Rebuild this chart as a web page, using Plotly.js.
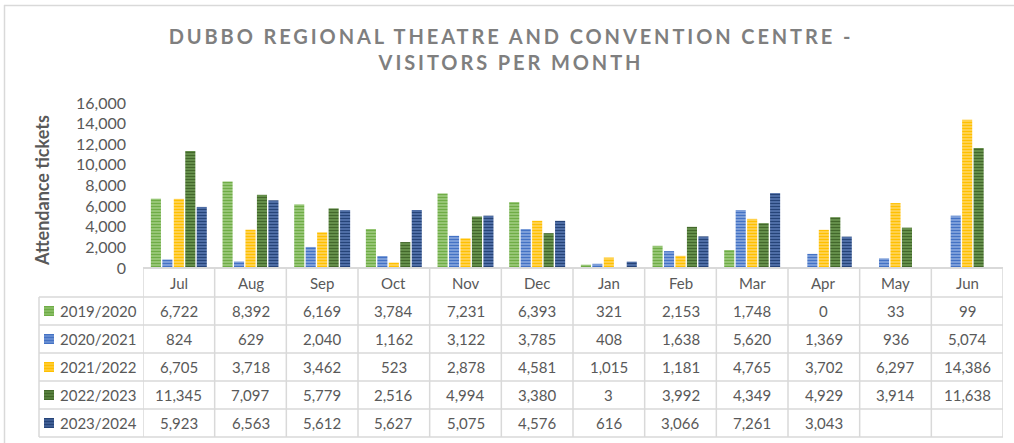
<!DOCTYPE html>
<html>
<head>
<meta charset="utf-8">
<script src="https://cdn.plot.ly/plotly-3.0.1.min.js"></script>
<style>
  html, body { margin: 0; padding: 0; background: #fff; }
  #chart { width: 1014px; height: 443px; }
  .gtitle { letter-spacing: 2.9px; }
</style>
</head>
<body>
<div id="chart"></div>
<script>
// ---- Data ----
const months = ["Jul","Aug","Sep","Oct","Nov","Dec","Jan","Feb","Mar","Apr","May","Jun"];
const seriesNames = ["2019/2020","2020/2021","2021/2022","2022/2023","2023/2024"];
const s2019_2020 = [6722, 8392, 6169, 3784, 7231, 6393, 321, 2153, 1748, 0, 33, 99];
const s2020_2021 = [824, 629, 2040, 1162, 3122, 3785, 408, 1638, 5620, 1369, 936, 5074];
const s2021_2022 = [6705, 3718, 3462, 523, 2878, 4581, 1015, 1181, 4765, 3702, 6297, 14386];
const s2022_2023 = [11345, 7097, 5779, 2516, 4994, 3380, 3, 3992, 4349, 4929, 3914, 11638];
const s2023_2024 = [5923, 6563, 5612, 5627, 5075, 4576, 616, 3066, 7261, 3043, null, null];
const seriesValues = [s2019_2020, s2020_2021, s2021_2022, s2022_2023, s2023_2024];

// ---- Styles ----
const fgColors = ["#6FAC46", "#4472C4", "#FFC000", "#43682B", "#264478"];
const bgColors = ["#9DCB7E", "#86A6DE", "#FFD55C", "#6B9650", "#5676AE"];
const textColor = "#595959";
const lineColor = "#D9D9D9";
const FONT = "Lato, 'Open Sans', sans-serif";

// geometry (pixels)
const W = 1014, H = 443;
const L = 143, R = 1003, T = 103, B = 268;
const plotW = R - L, plotH = B - T;
const px2x = p => (p - L) / plotW;
const py2y = p => (B - p) / plotH;

const traces = seriesNames.map((name, i) => ({
  type: "bar",
  name: name,
  x: months,
  y: seriesValues[i],
  marker: {
    color: bgColors[i],
    line: { width: 0 },
    pattern: { shape: "-", fgcolor: fgColors[i], bgcolor: bgColors[i], size: 3, solidity: 0.45, fillmode: "replace" }
  },
  hoverinfo: "x+y+name",
  showlegend: false
}));

// ---- Data table (shapes + annotations) ----
const shapes = [];
const annotations = [];
const lineStyle = { color: lineColor, width: 1.5 };

// outer chart border (left & top visible)
shapes.push({ type: "line", xref: "paper", yref: "paper", x0: px2x(4.5), x1: px2x(4.5), y0: py2y(5), y1: py2y(H), line: lineStyle });
shapes.push({ type: "line", xref: "paper", yref: "paper", x0: px2x(4), x1: px2x(W), y0: py2y(5.5), y1: py2y(5.5), line: lineStyle });

// axis line
shapes.push({ type: "line", xref: "paper", yref: "paper", x0: 0, x1: 1, y0: 0, y1: 0, line: { color: lineColor, width: 2 } });

const headerTop = 297, rowH = 28;
const tableBottom = headerTop + rowH * seriesNames.length;
const tableLeft = 39;
// horizontal lines
for (let r = 0; r <= seriesNames.length; r++) {
  const py = headerTop + r * rowH;
  shapes.push({ type: "line", xref: "paper", yref: "paper", x0: px2x(tableLeft), x1: 1, y0: py2y(py), y1: py2y(py), line: lineStyle });
}
// vertical lines
shapes.push({ type: "line", xref: "paper", yref: "paper", x0: px2x(tableLeft), x1: px2x(tableLeft), y0: py2y(headerTop), y1: py2y(tableBottom), line: lineStyle });
for (let c = 0; c <= months.length; c++) {
  shapes.push({ type: "line", xref: "x", yref: "paper", x0: c - 0.5, x1: c - 0.5, y0: 0, y1: py2y(tableBottom), line: lineStyle });
}

// month labels
months.forEach((m) => {
  annotations.push({ xref: "x", yref: "paper", x: m, y: py2y((B + headerTop) / 2), text: m, showarrow: false,
    xanchor: "center", yanchor: "middle", font: { family: FONT, size: 15, color: textColor } });
});

// rows
seriesNames.forEach((name, i) => {
  const cy = headerTop + rowH * i + rowH / 2;
  // legend key
  shapes.push({ type: "rect", xref: "paper", yref: "paper", x0: px2x(44), x1: px2x(54), y0: py2y(cy - 5), y1: py2y(cy + 5),
    fillcolor: fgColors[i], line: { width: 0 } });
  for (let k = 0; k < 3; k++) {
    const ly = cy - 3 + k * 3;
    shapes.push({ type: "line", xref: "paper", yref: "paper", x0: px2x(44), x1: px2x(54), y0: py2y(ly), y1: py2y(ly),
      line: { color: bgColors[i], width: 1 } });
  }
  annotations.push({ xref: "paper", yref: "paper", x: px2x(58), y: py2y(cy), text: name, showarrow: false,
    xanchor: "left", yanchor: "middle", font: { family: FONT, size: 15, color: textColor } });
  seriesValues[i].forEach((v, j) => {
    if (v === null || v === undefined) return;
    annotations.push({ xref: "x", yref: "paper", x: months[j], y: py2y(cy), text: v.toLocaleString("en-US"), showarrow: false,
      xanchor: "center", yanchor: "middle", font: { family: FONT, size: 15, color: textColor } });
  });
});

// y-axis title
annotations.push({ xref: "paper", yref: "paper", x: px2x(42), y: py2y(191), text: "<b>Attendance tickets</b>", textangle: -90,
  showarrow: false, xanchor: "center", yanchor: "middle", font: { family: FONT, size: 18, color: textColor } });

const layout = {
  width: W, height: H, autosize: false,
  margin: { l: L, r: W - R, t: T, b: H - B, pad: 0 },
  paper_bgcolor: "#ffffff", plot_bgcolor: "#ffffff",
  title: {
    text: "<b>DUBBO REGIONAL THEATRE AND CONVENTION CENTRE -<br>VISITORS PER MONTH</b>",
    font: { family: FONT, size: 20, color: "#7F7F7F" },
    xref: "container", yref: "container", x: 511 / W, xanchor: "center", y: 1 - 44 / H, yanchor: "top"
  },
  barmode: "group", bargap: 0.2, bargroupgap: 0.12,
  xaxis: { type: "category", range: [-0.5, 11.5], showticklabels: false, ticks: "", showgrid: false, zeroline: false, showline: false, fixedrange: true },
  yaxis: { range: [0, 16000], dtick: 2000, tickformat: ",", showgrid: false, zeroline: false, showline: false, ticks: "",
    tickfont: { family: FONT, size: 16, color: textColor }, ticklabelstandoff: 16, fixedrange: true },
  shapes: shapes,
  annotations: annotations,
  showlegend: false
};

Plotly.newPlot("chart", traces, layout, { displayModeBar: false, staticPlot: true });
</script>
</body>
</html>
